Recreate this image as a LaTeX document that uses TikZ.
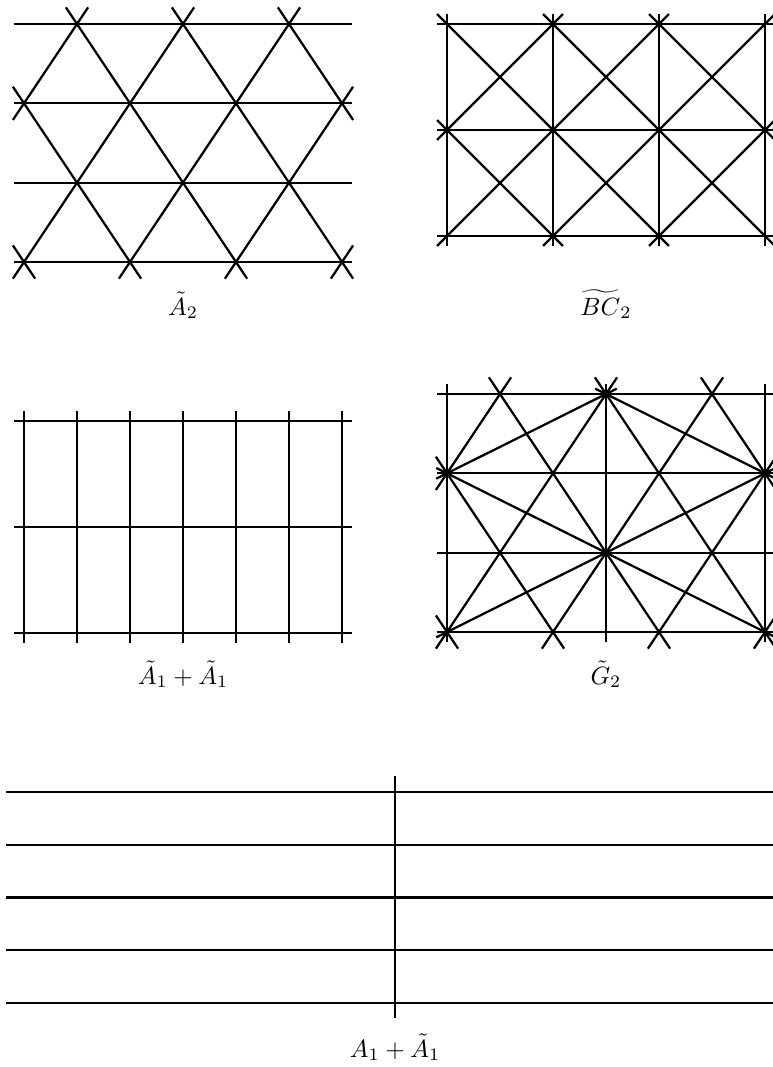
\documentclass[tikz,border=0pt]{standalone}
\usepackage{amsmath,amssymb}
\usepackage{tikz}
\usetikzlibrary{calc}
\tikzset{
    wall/.style={line width=0.9pt, draw=black},
    wallflat/.style={wall, shorten <=-4pt, shorten >=-4pt},
    wallsteep/.style={wall, shorten <=-8pt, shorten >=-8pt},
    walldiag/.style={wall, shorten <=-5.6pt, shorten >=-5.6pt},
    walllong/.style={wall, shorten <=-4.8pt, shorten >=-4.8pt},
    caption/.style={anchor=base, inner sep=0pt, font=\normalsize}
}

\begin{document}
\begin{tikzpicture}[x=0.4pt, y=-0.4pt]
\useasboundingbox (0,0) rectangle (773,1067);

% triangular lattices (A2 and the triangle part of G2)
\foreach \p/\dx/\dy in {a/0/0, g/423/370} {
    \begin{scope}[shift={(\dx,\dy)}]
        \foreach \r/\y in {1/24, 3/182.67}
            \foreach \c in {1,2,3}
                \coordinate (\p-\r-\c) at ({-29+106*\c}, \y);
        \foreach \r/\y in {2/103.33, 4/262}
            \foreach \c in {1,...,4}
                \coordinate (\p-\r-\c) at ({-82+106*\c}, \y);

        \foreach \r in {1,...,4}
            \draw[wallflat] (\p-2-1 |- \p-\r-1) -- (\p-2-4 |- \p-\r-1);
        \foreach \s/\e in {2-1/1-1, 4-1/1-2, 4-2/1-3, 4-3/2-4, 2-1/4-2, 1-1/4-3, 1-2/4-4, 1-3/2-4}
            \draw[wallsteep] (\p-\s) -- (\p-\e);
        \draw[wall] (\p-4-4) +(-11.1,16.6) -- +(11.1,-16.6);
        \draw[wall] (\p-4-1) +(-11.1,-16.6) -- +(11.1,16.6);
    \end{scope}
}

% G2: long walls
\draw[wallflat] (g-2-1 |- g-1-1) -- (g-4-1);
\draw[wallflat] (g-1-2) -- (g-1-2 |- g-4-1);
\draw[wallflat] (g-2-4 |- g-1-1) -- (g-4-4);
\foreach \s/\e in {4-1/2-4, 2-1/1-2, 1-2/2-4, 2-1/4-4}
    \draw[walllong] (g-\s) -- (g-\e);

% BC2
\foreach \j in {0,1,2}
    \foreach \i in {0,...,3}
        \coordinate (b-\j-\i) at ({447+106*\i}, {24+106*\j});
\foreach \j in {0,1,2}
    \draw[wallflat] (b-\j-0) -- (b-\j-3);
\foreach \i in {0,...,3}
    \draw[wallflat] (b-0-\i) -- (b-2-\i);
\foreach \s/\e in {1-0/2-1, 0-0/2-2, 0-1/2-3, 0-2/1-3, 0-1/1-0, 0-2/2-0, 0-3/2-1, 1-3/2-2}
    \draw[walldiag] (b-\s) -- (b-\e);

% A1 + A1 (affine)
\foreach \j in {0,1,2}
    \foreach \i in {0,...,6}
        \coordinate (c-\j-\i) at ({24+53*\i}, {421+106*\j});
\foreach \j in {0,1,2}
    \draw[wallflat] (c-\j-0) -- (c-\j-6);
\foreach \i in {0,...,6}
    \draw[wallflat] (c-0-\i) -- (c-2-\i);

% A1 + affine A1
\foreach \k in {0,...,4}
    \draw[wall] (6,{792+52.75*\k}) -- (784,{792+52.75*\k});
\draw[wall] (395,776) -- (395,1018);

\node[caption] (lblA2) at (183,315) {$\tilde{A}_2$};
\node[caption] (lblBC2) at (606,315) {$\widetilde{BC}_2$};
\node[caption] (lblA1A1) at (183,684) {$\tilde{A}_1+\tilde{A}_1$};
\node[caption] (lblG2) at (606,684) {$\tilde{G}_2$};
\node[caption] (lblA1tA1) at (395,1057) {$A_1+\tilde{A}_1$};
\end{tikzpicture}
\end{document}
